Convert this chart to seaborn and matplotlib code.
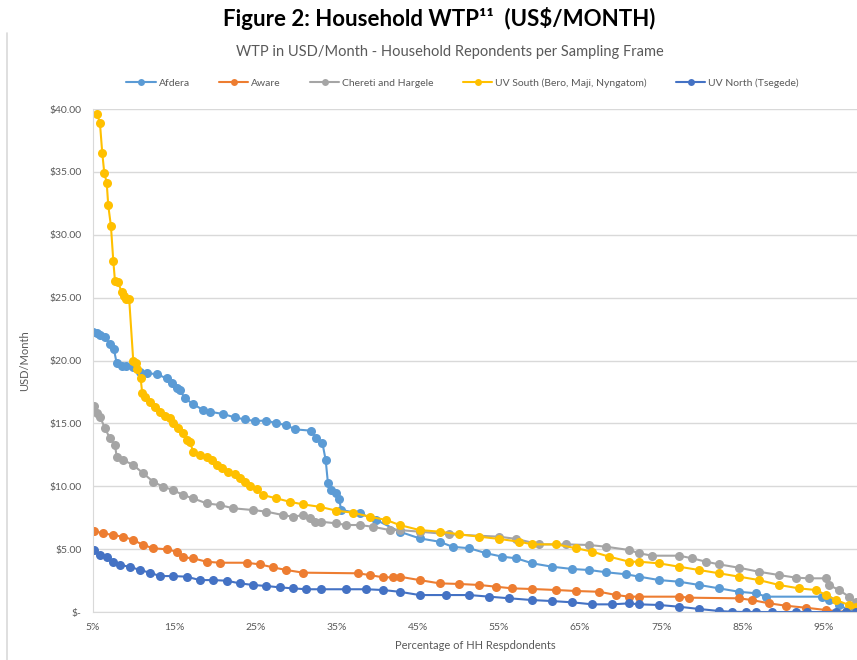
import numpy as np
import pandas as pd
import seaborn as sns
import matplotlib.pyplot as plt
from matplotlib.lines import Line2D
from matplotlib.ticker import FuncFormatter

# (x = % of HH respondents, y = USD/month)
afdera_x = [5.04, 5.46, 5.86, 6.48, 7.09, 7.58, 7.92, 8.53, 9.06, 9.88, 10.78, 11.61, 12.84, 14.07,
            14.68, 15.30, 15.70, 16.32, 17.34, 18.57, 19.39, 21.03, 22.47, 23.70, 24.93, 26.37,
            27.60, 28.83, 29.85, 31.90, 32.52, 33.25, 33.66, 33.94, 34.36, 34.89, 35.30, 35.59,
            37.84, 39.90, 42.76, 45.22, 47.68, 49.28, 51.37, 53.46, 55.43, 57.15, 59.12, 61.58,
            64.04, 66.13, 68.22, 70.68, 72.28, 74.74, 77.20, 79.66, 82.12, 84.58, 86.67, 87.90,
            94.79, 95.65, 96.88, 98.48]
afdera_y = [22.29, 22.16, 22.03, 21.85, 21.31, 20.89, 19.78, 19.56, 19.56, 19.51, 19.11, 18.98,
            18.93, 18.58, 18.19, 17.81, 17.65, 16.99, 16.54, 16.06, 15.93, 15.75, 15.48, 15.32,
            15.19, 15.23, 15.01, 14.87, 14.53, 14.42, 13.81, 13.46, 12.09, 10.23, 9.70, 9.49,
            8.96, 8.11, 7.85, 7.32, 6.39, 5.86, 5.59, 5.19, 5.07, 4.67, 4.40, 4.27, 3.87, 3.60,
            3.42, 3.34, 3.16, 3.00, 2.81, 2.54, 2.41, 2.15, 1.88, 1.61, 1.49, 1.22,
            1.22, 0.95, 0.56, 0.02]

aware_x = [5.12, 6.27, 7.50, 8.73, 9.96, 11.19, 12.42, 14.07, 15.30, 16.11, 17.34, 18.99, 20.62,
           23.91, 25.54, 27.18, 28.83, 30.87, 37.63, 39.07, 40.71, 41.94, 42.76, 45.22, 47.68,
           50.14, 52.60, 54.69, 56.66, 59.12, 62.07, 64.53, 67.36, 69.45, 71.05, 72.28, 77.20,
           78.43, 84.58, 86.18, 88.27, 90.36, 92.82, 95.28, 97.74, 98.97]
aware_y = [6.44, 6.26, 6.12, 5.99, 5.73, 5.33, 5.07, 4.99, 4.80, 4.35, 4.27, 4.00, 3.92, 3.92,
           3.79, 3.55, 3.34, 3.13, 3.08, 2.94, 2.76, 2.76, 2.81, 2.54, 2.28, 2.23, 2.15, 2.01,
           1.88, 1.83, 1.75, 1.67, 1.61, 1.35, 1.22, 1.22, 1.22, 1.14, 1.09, 0.95, 0.69, 0.50,
           0.34, 0.16, 0.0, 0.0]

chereti_x = [5.12, 5.46, 5.86, 6.48, 7.09, 7.71, 7.92, 8.73, 9.96, 11.19, 12.42, 13.65, 14.88,
             16.11, 17.34, 18.99, 20.62, 22.26, 24.72, 26.37, 28.41, 29.64, 30.87, 31.69, 32.31,
             33.13, 34.98, 36.20, 37.84, 39.48, 41.53, 42.76, 45.22, 48.91, 55.06, 57.15, 59.98,
             63.30, 66.13, 68.22, 71.05, 72.28, 73.88, 77.20, 78.80, 80.52, 82.12, 84.58, 87.04,
             89.50, 91.59, 93.19, 95.28, 95.65, 96.88, 98.11, 98.97]
chereti_y = [16.38, 15.80, 15.53, 14.61, 13.81, 13.28, 12.35, 12.09, 11.69, 11.03, 10.36, 9.96,
             9.70, 9.30, 9.04, 8.64, 8.51, 8.25, 8.11, 7.98, 7.71, 7.58, 7.71, 7.45, 7.18, 7.18,
             7.05, 6.92, 6.92, 6.78, 6.52, 6.52, 6.39, 6.18, 5.99, 5.81, 5.38, 5.38, 5.33, 5.19,
             4.93, 4.67, 4.48, 4.48, 4.27, 4.00, 3.79, 3.52, 3.20, 2.94, 2.73, 2.68, 2.68, 2.15,
             1.75, 1.22, 0.82]

south_x = [5.53, 5.86, 6.14, 6.39, 6.69, 6.88, 7.21, 7.50, 7.71, 8.11, 8.53, 8.81, 9.06, 9.46,
           9.96, 10.25, 10.45, 10.87, 11.06, 11.40, 12.01, 12.63, 13.24, 13.86, 14.47, 14.88,
           15.49, 16.11, 16.53, 16.93, 17.34, 18.16, 18.99, 19.60, 20.22, 20.83, 21.64, 22.47,
           23.08, 23.70, 24.31, 25.14, 25.95, 27.60, 29.23, 30.87, 32.92, 34.98, 37.02, 39.07,
           41.13, 42.76, 45.22, 47.68, 50.14, 52.60, 55.06, 57.52, 59.12, 62.07, 64.53, 66.50,
           68.59, 71.05, 72.28, 74.74, 77.20, 79.66, 82.12, 84.58, 87.04, 89.50, 91.96, 94.05,
           95.28, 96.51, 98.11, 98.97]
south_y = [39.60, 38.86, 36.53, 34.93, 34.14, 32.34, 30.70, 27.94, 26.32, 26.22, 25.42, 25.13,
           24.89, 24.87, 19.98, 19.82, 19.30, 18.58, 17.44, 17.12, 16.72, 16.33, 15.93, 15.59,
           15.43, 15.01, 14.61, 14.21, 13.68, 13.54, 12.75, 12.49, 12.30, 12.09, 11.69, 11.43,
           11.16, 10.97, 10.63, 10.36, 10.02, 9.76, 9.30, 9.04, 8.77, 8.56, 8.37, 8.06, 7.90,
           7.58, 7.32, 6.92, 6.52, 6.39, 6.18, 5.99, 5.81, 5.59, 5.38, 5.38, 5.07, 4.80,
           4.40, 4.00, 4.00, 3.87, 3.60, 3.34, 3.08, 2.81, 2.54, 2.15, 1.88, 1.75,
           1.35, 0.95, 0.56, 0.42]

north_x = [5.12, 5.86, 6.69, 7.50, 8.32, 9.55, 10.78, 12.01, 13.24, 14.88, 16.53, 18.16, 19.80,
           21.45, 23.08, 24.72, 26.37, 28.00, 29.64, 31.29, 33.13, 36.20, 38.67, 40.71, 42.76,
           45.22, 48.54, 51.37, 53.83, 56.29, 59.12, 61.58, 64.04, 66.50, 68.96, 71.05, 72.28,
           74.74, 77.20, 79.66, 82.12, 83.70, 85.40, 86.70, 88.60, 91.60, 92.90, 96.50, 97.70,
           98.97]
north_y = [4.93, 4.53, 4.40, 4.00, 3.74, 3.60, 3.34, 3.13, 2.86, 2.86, 2.81, 2.54, 2.54, 2.49,
           2.28, 2.15, 2.07, 1.96, 1.88, 1.81, 1.81, 1.81, 1.81, 1.75, 1.61, 1.35, 1.35, 1.35,
           1.22, 1.09, 0.95, 0.87, 0.77, 0.61, 0.61, 0.69, 0.61, 0.56, 0.42, 0.24, 0.08, 0.02,
           0.0, 0.0, 0.0, 0.0, 0.0, 0.0, 0.0, 0.0]

names = ['Afdera', 'Aware', 'Chereti and Hargele', 'UV South (Bero, Maji, Nyngatom)',
         'UV North (Tsegede)']
colors = ['#5B9BD5', '#ED7D31', '#A5A5A5', '#FFC000', '#4472C4']
xs = [afdera_x, aware_x, chereti_x, south_x, north_x]
ys = [afdera_y, aware_y, chereti_y, south_y, north_y]

df = pd.concat([pd.DataFrame({'pct': x, 'usd': y, 'series': n}) for x, y, n in zip(xs, ys, names)],
               ignore_index=True)

sns.set_style('white')
plt.rcParams['font.family'] = ['Lato', 'DejaVu Sans']
grey = '#595959'

fig = plt.figure(figsize=(8.57, 6.6), dpi=100)
ax = fig.add_axes([0.1085, 0.0727, 0.8915, 0.762])

sns.lineplot(data=df, x='pct', y='usd', hue='series', hue_order=names, palette=colors,
             marker='o', markersize=6.5, markeredgewidth=0, linewidth=1.5,
             estimator=None, sort=False, legend=False, ax=ax)

ax.set_xlim(5, 99.1)
ax.set_ylim(0, 40)
ax.set_xticks(np.arange(5, 100, 10))
ax.set_yticks(np.arange(0, 41, 5))
ax.xaxis.set_major_formatter(FuncFormatter(lambda v, p: f'{v:.0f}%'))
ax.yaxis.set_major_formatter(FuncFormatter(lambda v, p: '$-' if v == 0 else f'${v:.2f}'))
ax.tick_params(length=0, labelsize=7.5, labelcolor=grey, pad=8)
ax.grid(axis='y', color='#d9d9d9', linewidth=1)
for s in ['top', 'right']:
    ax.spines[s].set_visible(False)
for s in ['left', 'bottom']:
    ax.spines[s].set_color('#d9d9d9')
ax.set_xlabel('Percentage of HH Respdondents', fontsize=8, color=grey, labelpad=6)
ax.set_ylabel('USD/Month', fontsize=8, color=grey, labelpad=14)

handles = [Line2D([], [], color=c, marker='o', markersize=5, markeredgewidth=0, linewidth=1.5)
           for c in colors]
fig.legend(handles, names, loc='center', bbox_to_anchor=(0.54, 0.874), ncol=5, frameon=False,
           fontsize=7.5, labelcolor=grey, handlelength=2.8, columnspacing=2.8, handletextpad=0.3)

fig.text(0.525, 0.921, 'WTP in USD/Month - Household Repondents per Sampling Frame',
         ha='center', va='center', fontsize=10.5, color=grey)
fig.text(0.513, 0.972, 'Figure 2: Household WTP\u00b9\u00b9  (US$/MONTH)', ha='center',
         va='center', fontsize=16, fontweight='bold', color='black')
fig.add_artist(Line2D([0.0085, 0.0085], [0.0, 0.95], color='#d9d9d9', linewidth=1.2))

fig.savefig('out.png', dpi=100)
